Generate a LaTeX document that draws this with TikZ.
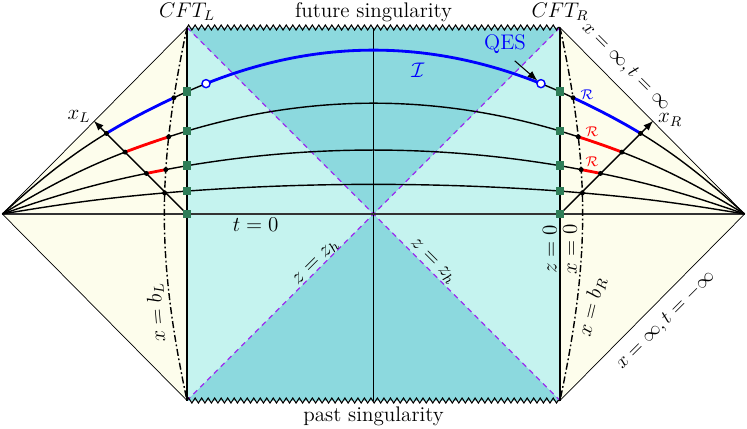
\documentclass[tikz,border=0pt,12pt]{standalone}
\usepackage{amsmath,amssymb}
\usepackage{xcolor}
\usepackage{tikz}
\usetikzlibrary{arrows.meta}
\usetikzlibrary{decorations.pathmorphing}
\usetikzlibrary{intersections}
\definecolor{creme}{RGB}{253,253,236}
\definecolor{cianoclaro}{RGB}{197,243,239}
\definecolor{cianoescuro}{RGB}{140,217,222}
\definecolor{verde}{RGB}{46,125,87}
\definecolor{roxo}{RGB}{155,45,240}
\tikzset{
  fatia/.style={thick},
  trecho/.style={line width=1.6pt},
  singular/.style={semithick, decorate, decoration={zigzag, segment length=0.13cm, amplitude=0.05cm}},
  horizonte/.style={roxo, line width=0.7pt, dash pattern=on 3pt off 2.5pt},
  parede/.style={thick, dash pattern=on 4pt off 1.5pt on 1pt off 1.5pt},
  marca/.style={fill=verde, minimum size=0.17cm, inner sep=0pt},
  ponto/.style={circle, fill, inner sep=0pt, minimum size=2.8pt},
  qes/.style={circle, draw=blue, fill=white, line width=0.8pt, inner sep=0pt, minimum size=4.6pt},
  eixo/.style={-{Latex[length=2mm]}, thick},
  borda/.style={font=\fontsize{10.5}{12}\selectfont},
}
% fatia: altura na borda, controle, curvatura
\newcommand{\fatia}[3]{(-1.99,0) to[bend left=#3] (-1,#1) .. controls (-1/3,#2) and (1/3,#2) .. (1,#1) to[bend left=#3] (1.99,0)}

\begin{document}
\begin{tikzpicture}[x=3.724cm, y=3.724cm]
  \useasboundingbox (-2.0027,-1.1475) rectangle (2.0027,1.1475);
  % regioes
  \fill[creme] (-1,1) -- (-1.99,0) -- (-1,-1) -- cycle;
  \fill[creme] (1,1) -- (1.99,0) -- (1,-1) -- cycle;
  \fill[cianoclaro] (-1,-1) rectangle (1,1);
  \fill[cianoescuro] (-1,1) -- (1,1) -- (0,0) -- cycle;
  \fill[cianoescuro] (-1,-1) -- (1,-1) -- (0,0) -- cycle;
  \draw[horizonte] (-1,1) -- (1,-1);
  \draw[horizonte] (1,1) -- (-1,-1);
  \draw[singular] (-1,1) -- (1,1);
  \draw[singular] (-1,-1) -- (1,-1);
  \draw (-1,1) -- (-1.99,0) -- (-1,-1);
  \draw (1,1) -- (1.99,0) -- (1,-1);
  \draw[semithick] (-1,1) -- (-1,-1);
  \draw[semithick] (1,1) -- (1,-1);
  \draw (0,1) -- (0,-1);
  \draw[line width=1pt, black!80] (-1.99,0) -- (1.99,0);
  % fatias
  \draw[fatia, name path=f1] \fatia{0.656}{0.953}{9};
  \draw[fatia, name path=f2] \fatia{0.445}{0.644}{7};
  \draw[fatia, name path=f3] \fatia{0.259}{0.371}{4.5};
  \draw[fatia, name path=f4] \fatia{0.123}{0.171}{2.5};
  \begin{scope}
    \clip (-0.898,0) rectangle (0.898,1);
    \draw[trecho, blue] \fatia{0.656}{0.953}{9};
  \end{scope}
  % paredes e eixos
  \draw[parede, name path=bL] (-1,1) to[bend right=12] (-1,-1);
  \draw[parede, name path=bR] (1,1) to[bend left=12] (1,-1);
  \draw[eixo, name path=xL] (-1,0) -- (-1.5,0.5);
  \draw[eixo, name path=xR] (1,0) -- (1.5,0.5);
  \begin{scope}
    \clip (0,-1) -- (-2.3,1.3) -- (0,1.3) -- cycle;
    \clip (-1,1) to[bend right=12] (-1,-1) -- (-2.1,-1) -- (-2.1,1) -- cycle;
    \draw[trecho, blue] \fatia{0.656}{0.953}{9};
    \draw[trecho, red] \fatia{0.445}{0.644}{7};
    \draw[trecho, red] \fatia{0.259}{0.371}{4.5};
  \end{scope}
  \begin{scope}
    \clip (0,-1) -- (2.3,1.3) -- (0,1.3) -- cycle;
    \clip (1,1) to[bend left=12] (1,-1) -- (2.1,-1) -- (2.1,1) -- cycle;
    \draw[trecho, blue] \fatia{0.656}{0.953}{9};
    \draw[trecho, red] \fatia{0.445}{0.644}{7};
    \draw[trecho, red] \fatia{0.259}{0.371}{4.5};
  \end{scope}
  % pontos
  \foreach \i in {1,2,3,4} {
    \path[name intersections={of=bL and f\i, by=pl\i}];
    \path[name intersections={of=bR and f\i, by=pr\i}];
    \node[ponto] (dl\i) at (pl\i) {};
    \node[ponto] (dr\i) at (pr\i) {};
  }
  \foreach \i in {1,2,3} {
    \path[name intersections={of=xL and f\i, by=al\i}];
    \path[name intersections={of=xR and f\i, by=ar\i}];
    \node[ponto] (el\i) at (al\i) {};
    \node[ponto] (er\i) at (ar\i) {};
  }
  \foreach \h [count=\i] in {0.656,0.445,0.259,0.123,0} {
    \node[marca] (mL\i) at (-1,\h) {};
    \node[marca] (mR\i) at (1,\h) {};
  }
  \node[qes] (qL) at (-0.898,0.699) {};
  \node[qes] (qR) at (0.898,0.699) {};
  % textos
  \node (cftL) at (-1,1.083) {$CFT_L$};
  \node (cftR) at (1,1.083) {$CFT_R$};
  \node (fut) at (0,1.083) {future singularity};
  \node (pas) at (0,-1.083) {past singularity};
  \node (t0) at (-0.632,-0.058) {$t=0$};
  \node[blue] (ent) at (0.238,0.772) {$\mathcal{I}$};
  \node[blue] (qlab) at (0.705,0.912) {QES};
  \draw[-{Latex[length=2mm]}, semithick] (qlab.-60) -- (qR);
  \node[blue, font=\scriptsize] (rA) at (1.145,0.638) {$\mathcal{R}$};
  \node[red, font=\scriptsize] (rB) at (1.172,0.441) {$\mathcal{R}$};
  \node[red, font=\scriptsize] (rC) at (1.172,0.280) {$\mathcal{R}$};
  \node (xl) at (-1.579,0.525) {$x_L$};
  \node (xr) at (1.590,0.504) {$x_R$};
  \node[rotate=45] (zhL) at (-0.307,-0.263) {$z=z_h$};
  \node[rotate=-45] (zhR) at (0.317,-0.256) {$z=z_h$};
  \node[rotate=90] (z0) at (0.946,-0.188) {$z=0$};
  \node[rotate=90] (x0) at (1.054,-0.188) {$x=0$};
  \node[rotate=76] (xbR) at (1.172,-0.497) {$x=b_R$};
  \node[rotate=95] (xbL) at (-1.161,-0.53) {$x=b_L$};
  \node[borda, rotate=-45] (infF) at (1.352,0.79) {$x=\infty, t=\infty$};
  \node[borda, rotate=45] (infP) at (1.568,-0.571) {$x=\infty, t=-\infty$};
\end{tikzpicture}
\end{document}
